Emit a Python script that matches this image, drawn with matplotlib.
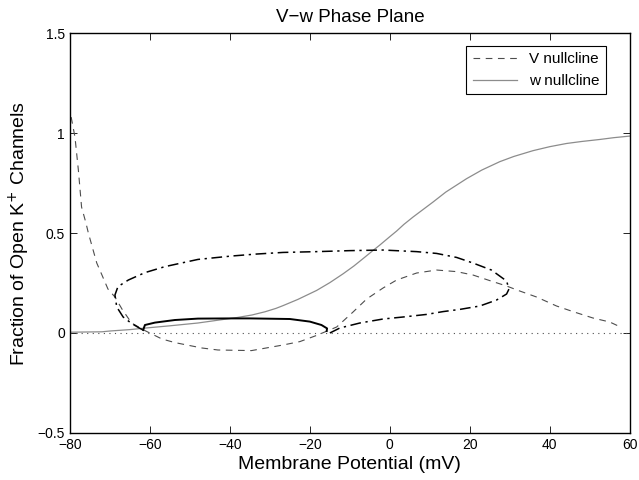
import matplotlib
matplotlib.use("Agg")
import matplotlib.pyplot as plt

plt.rcParams['font.family'] = ['Liberation Sans', 'DejaVu Sans']

# V nullcline (dashed)
v_null_V = [-79.7, -78.75, -77.9, -77.1, -76.0, -75.4, -74.0, -73.3, -72.0, -70.5,
            -68.75, -67.0, -64.6, -61.25, -57.0, -53.75, -47.0, -43.0, -34.6, -26.7,
            -22.5, -18.3, -13.3, -9.2, -5.8, -1.7, 1.7, 6.7, 11.7, 16.7, 20.8, 25.0,
            29.2, 32.5, 36.7, 41.7, 45.8, 50.8, 55.0, 57.9]
v_null_w = [1.08, 0.98, 0.815, 0.63, 0.55, 0.50, 0.40, 0.35, 0.29, 0.22,
            0.18, 0.12, 0.05, 0.012, -0.03, -0.048, -0.075, -0.085, -0.088, -0.06,
            -0.043, -0.012, 0.03, 0.105, 0.17, 0.225, 0.265, 0.30, 0.315, 0.307, 0.29, 0.262,
            0.235, 0.21, 0.18, 0.135, 0.107, 0.075, 0.055, 0.028]

# w nullcline (solid grey)
w_null_V = [-80.0, -72.0, -70.0, -65.0, -61.0, -55.0, -48.0, -43.0, -38.0, -34.5,
            -31.25, -28.5, -26.7, -23.0, -18.3, -15.0, -11.7, -9.0, -6.7, -4.5,
            -2.5, 0.0, 1.7, 3.5, 5.8, 8.0, 10.8, 14.0, 19.2, 23.0, 27.5, 31.0,
            35.8, 40.0, 44.2, 48.0, 52.5, 56.0, 60.0]
w_null_w = [0.004, 0.006, 0.01, 0.017, 0.025, 0.036, 0.05, 0.064, 0.078, 0.09,
            0.106, 0.123, 0.137, 0.168, 0.213, 0.252, 0.296, 0.335, 0.372, 0.408,
            0.44, 0.482, 0.51, 0.543, 0.58, 0.613, 0.655, 0.705, 0.772, 0.815, 0.857, 0.883,
            0.912, 0.932, 0.948, 0.958, 0.968, 0.977, 0.985]

# dash-dot trajectory
traj_V = [-15.0, -12.5, -7.5, -1.7, 3.3, 9.2, 13.3, 17.5, 22.5, 26.7, 29.2, 29.8,
          29.2, 25.4, 20.8, 16.7, 11.7, 6.7, -1.7, -10.0, -18.3, -26.7, -33.3,
          -39.6, -48.0, -56.25, -61.25, -65.4, -68.0, -68.75, -68.3, -66.7, -64.6,
          -62.5, -61.7]
traj_w = [0.0, 0.025, 0.05, 0.07, 0.08, 0.093, 0.107, 0.118, 0.135, 0.165, 0.195, 0.22,
          0.26, 0.315, 0.35, 0.378, 0.398, 0.407, 0.415, 0.412, 0.407, 0.403, 0.395,
          0.385, 0.368, 0.332, 0.302, 0.265, 0.232, 0.19, 0.13, 0.08, 0.048,
          0.023, 0.015]

# solid black limit-cycle arc
cycle_V = [-61.7, -61.25, -58.75, -53.75, -48.0, -39.6, -35.0, -25.0, -20.0, -17.1,
           -15.7, -15.8]
cycle_w = [0.015, 0.04, 0.052, 0.065, 0.072, 0.073, 0.073, 0.07, 0.057, 0.04,
           0.023, 0.01]

zero_V = [-80, 60]
zero_w = [0, 0]

xticks = [-80, -60, -40, -20, 0, 20, 40, 60]
yticks = [-0.5, 0, 0.5, 1, 1.5]

fig = plt.figure(figsize=(6.39, 4.8), dpi=100)
ax = fig.add_axes([0.1095, 0.098, 0.876, 0.833])

ax.plot(v_null_V, v_null_w, color='0.3', ls=(0, (6, 5)), lw=0.8, label='V nullcline')
ax.plot(w_null_V, w_null_w, color='0.55', ls='-', lw=0.9, label='w nullcline')
ax.plot(zero_V, zero_w, color='0.3', ls=(0, (1, 4)), lw=0.8)
ax.plot(traj_V, traj_w, color='black', ls=(0, (7, 3, 1.5, 3)), lw=1.1)
ax.plot(cycle_V, cycle_w, color='black', ls='-', lw=1.4)

ax.set_xlim(-80, 60)
ax.set_ylim(-0.5, 1.5)
ax.set_xticks(xticks)
ax.set_yticks(yticks)
ax.set_xticklabels([str(t).replace('-', '\u2212') for t in xticks])
ax.set_yticklabels(['\u22120.5', '0', '0.5', '1', '1.5'])
ax.tick_params(direction='in', length=5, width=0.6, top=True, right=True, labelsize=10)
for s in ax.spines.values():
    s.set_linewidth(1.0)

ax.set_title('V\u2212w Phase Plane', fontsize=13.5, pad=8)
ax.set_xlabel('Membrane Potential (mV)', fontsize=14, labelpad=3)
ax.set_ylabel('Fraction of Open K$^{+}$ Channels', fontsize=14, labelpad=4)

leg = ax.legend(loc='upper right', bbox_to_anchor=(0.957, 0.9675), borderaxespad=0,
                fontsize=11, handlelength=2.9, fancybox=False, framealpha=1,
                edgecolor='black')
leg.get_frame().set_linewidth(0.8)

fig.savefig('out.png', dpi=100)
